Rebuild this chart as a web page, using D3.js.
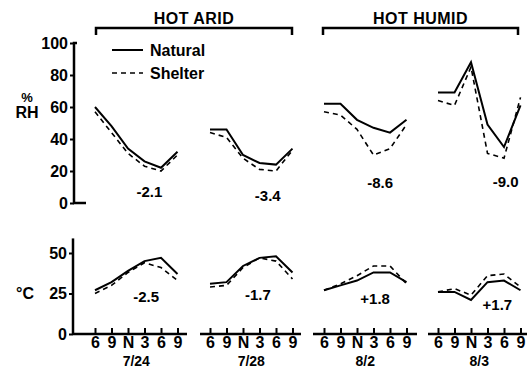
<!DOCTYPE html>
<html>
<head>
<meta charset="utf-8">
<script src="https://cdn.jsdelivr.net/npm/d3@7"></script>
<style>
  body { margin: 0; background: #fff; }
  svg { display: block; font-family: "Liberation Sans", Arial, sans-serif; font-weight: bold; }
  .axis text { font-size: 16px; fill: #000; }
</style>
</head>
<body>
<svg></svg>
<script>
// data
const hours = ["6", "9", "N", "3", "6", "9"];
const dates = ["7/24", "7/28", "8/2", "8/3"];
const groups = ["HOT ARID", "HOT HUMID"];

const rhNatural = [
  [60, 48, 34, 26, 22, 32],
  [46, 46, 30, 25, 24, 34],
  [62, 62, 52, 47, 44, 52],
  [69, 69, 88, 49, 35, 61]
];
const rhShelter = [
  [57, 44, 31, 23, 20, 30],
  [44, 41, 28, 21, 20, 33],
  [57, 55, 46, 30, 34, 49],
  [64, 61, 85, 31, 28, 66]
];
const tNatural = [
  [27, 32, 39, 45, 47, 37],
  [31, 32, 42, 47, 48, 38],
  [27, 30, 33, 38, 38, 32],
  [26, 26, 21, 32, 33, 27]
];
const tShelter = [
  [25, 30, 38, 44, 41, 33],
  [29, 30, 41, 47, 45, 34],
  [27, 31, 36, 42, 42, 31],
  [26, 28, 24, 36, 37, 29]
];
const rhDiff = ["-2.1", "-3.4", "-8.6", "-9.0"];
const tDiff = ["-2.5", "-1.7", "+1.8", "+1.7"];

const svg = d3.select("svg").attr("width", 527).attr("height", 370);

// layout
const panelStart = [95, 210, 324, 438];
const step = 16.5;
const rhDiffPos = [[3.3, 7], [3.5, 4.4], [3.4, 12.5], [4.1, 13]];
const tDiffPos = [[3.1, 23], [2.9, 24], [3.1, 22], [3.6, 18]];
const axisLineEnds = [[73, 187], [200, 301], [313, 417], [428, 527]];

const yRH = d3.scaleLinear().domain([0, 100]).range([203, 43]);
const yT = d3.scaleLinear().domain([0, 50]).range([334, 253]);

const xScales = panelStart.map((s) =>
  d3.scaleLinear().domain([0, hours.length - 1]).range([s, s + step * (hours.length - 1)])
);

// y axes
const gRH = svg.append("g").attr("class", "axis")
  .attr("transform", "translate(74,0)")
  .call(d3.axisLeft(yRH).tickValues([0, 20, 40, 60, 80, 100]).tickSize(4).tickPadding(2));
gRH.select(".domain").remove();
gRH.selectAll("line").attr("stroke-width", 2);
svg.append("path")
  .attr("d", `M77,${yRH(100)}H74V${yRH(0)}H86`)
  .attr("fill", "none").attr("stroke", "#000").attr("stroke-width", 2.5);

const gT = svg.append("g").attr("class", "axis")
  .attr("transform", "translate(73,0)")
  .call(d3.axisLeft(yT).tickValues([0, 25, 50]).tickSize(4).tickPadding(2));
gT.select(".domain").remove();
gT.selectAll("line").attr("stroke-width", 2);
svg.append("line")
  .attr("x1", 73).attr("x2", 73).attr("y1", yT(59)).attr("y2", yT(0))
  .attr("stroke", "#000").attr("stroke-width", 2.5);

// axis titles
svg.append("text").attr("x", 27).attr("y", 102).attr("text-anchor", "middle")
  .attr("font-size", 13).text("%");
svg.append("text").attr("x", 27).attr("y", 118).attr("text-anchor", "middle")
  .attr("font-size", 16).text("RH");
svg.append("text").attr("x", 25).attr("y", 299).attr("text-anchor", "middle")
  .attr("font-size", 16).text("°C");

const lineRH = (x) => d3.line().x((d, i) => x(i)).y((d) => yRH(d));
const lineT = (x) => d3.line().x((d, i) => x(i)).y((d) => yT(d));

dates.forEach((date, p) => {
  const x = xScales[p];

  // x axis
  svg.append("line")
    .attr("x1", axisLineEnds[p][0]).attr("x2", axisLineEnds[p][1])
    .attr("y1", yT(0)).attr("y2", yT(0))
    .attr("stroke", "#000").attr("stroke-width", 2.5);
  const gx = svg.append("g").attr("class", "axis")
    .attr("transform", `translate(0,${yT(0)})`)
    .call(d3.axisBottom(x).tickValues(d3.range(hours.length))
      .tickFormat((i) => hours[i]).tickSizeInner(-6).tickSizeOuter(0).tickPadding(3));
  gx.select(".domain").remove();
  gx.selectAll("line").attr("stroke-width", 2);
  gx.selectAll("text").attr("font-size", 15).attr("dy", "0.71em");

  svg.append("text")
    .attr("x", x(2.5)).attr("y", 366)
    .attr("text-anchor", "middle").attr("font-size", 14)
    .text(date);

  // RH lines
  svg.append("path").datum(rhNatural[p])
    .attr("d", lineRH(x)).attr("fill", "none")
    .attr("stroke", "#000").attr("stroke-width", 2);
  svg.append("path").datum(rhShelter[p])
    .attr("d", lineRH(x)).attr("fill", "none")
    .attr("stroke", "#000").attr("stroke-width", 1.6).attr("stroke-dasharray", "5,4");

  // temperature lines
  svg.append("path").datum(tNatural[p])
    .attr("d", lineT(x)).attr("fill", "none")
    .attr("stroke", "#000").attr("stroke-width", 2);
  svg.append("path").datum(tShelter[p])
    .attr("d", lineT(x)).attr("fill", "none")
    .attr("stroke", "#000").attr("stroke-width", 1.6).attr("stroke-dasharray", "5,4");

  // differences
  svg.append("text")
    .attr("x", x(rhDiffPos[p][0])).attr("y", yRH(rhDiffPos[p][1]))
    .attr("dy", "0.35em").attr("text-anchor", "middle").attr("font-size", 15)
    .text(rhDiff[p]);
  svg.append("text")
    .attr("x", x(tDiffPos[p][0])).attr("y", yT(tDiffPos[p][1]))
    .attr("dy", "0.35em").attr("text-anchor", "middle").attr("font-size", 15)
    .text(tDiff[p]);
});

// group brackets
const bracketEnds = [[96, 292], [323, 518]];
groups.forEach((g, i) => {
  const [a, b] = bracketEnds[i];
  svg.append("path")
    .attr("d", `M${a},35V28H${b}V35`)
    .attr("fill", "none").attr("stroke", "#000").attr("stroke-width", 2.5);
  svg.append("text")
    .attr("x", (a + b) / 2).attr("y", 24)
    .attr("text-anchor", "middle").attr("font-size", 16)
    .attr("letter-spacing", 0.5).text(g);
});

// legend
const legend = svg.append("g").attr("transform", "translate(112,50)");
legend.append("line").attr("x1", 0).attr("x2", 31).attr("y1", 0).attr("y2", 0)
  .attr("stroke", "#000").attr("stroke-width", 2);
legend.append("text").attr("x", 38).attr("y", 6).attr("font-size", 16).text("Natural");
legend.append("line").attr("x1", 0).attr("x2", 31).attr("y1", 23).attr("y2", 23)
  .attr("stroke", "#000").attr("stroke-width", 1.6).attr("stroke-dasharray", "5,4");
legend.append("text").attr("x", 38).attr("y", 29).attr("font-size", 16).text("Shelter");
</script>
</body>
</html>
